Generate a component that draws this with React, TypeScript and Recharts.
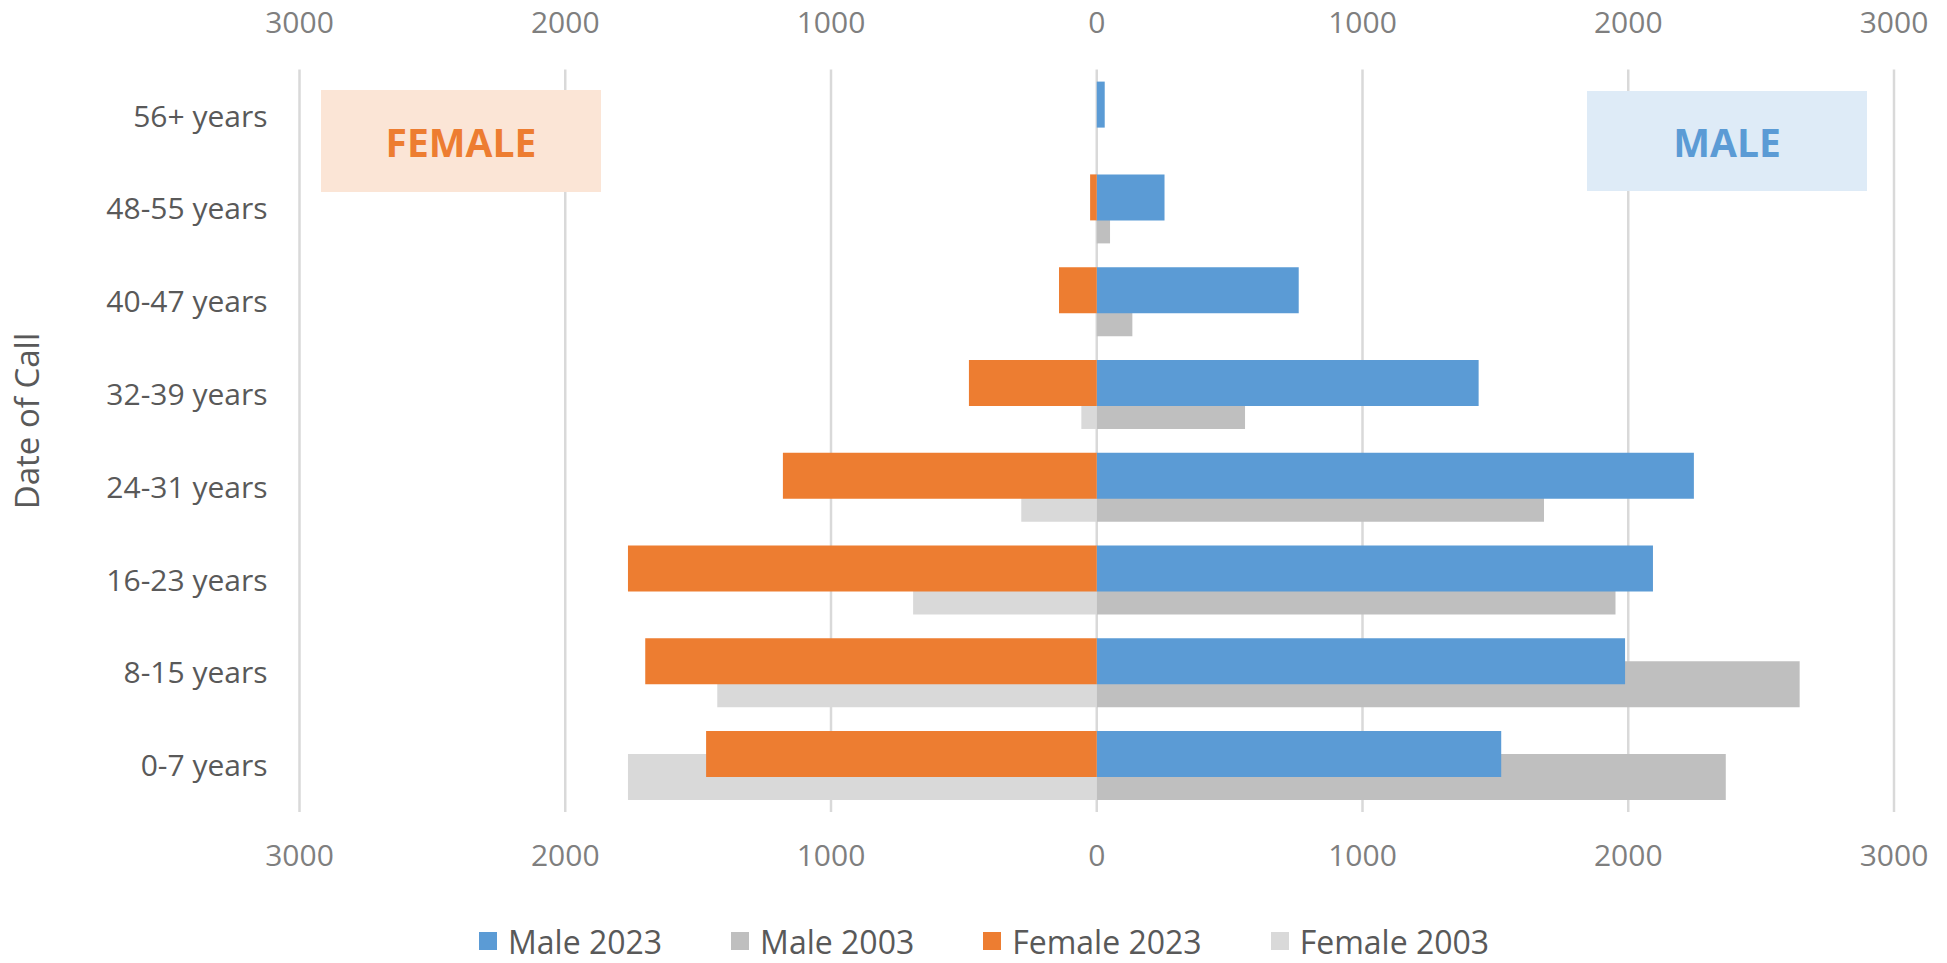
import React from 'react';
import { BarChart, Bar, XAxis, YAxis, CartesianGrid, Legend, Rectangle } from 'recharts';

const FONT = '"Open Sans", "DejaVu Sans", sans-serif';

const ageGroups = ['56+ years', '48-55 years', '40-47 years', '32-39 years', '24-31 years', '16-23 years', '8-15 years', '0-7 years'];
const male2023 = [30, 255, 760, 1437, 2247, 2093, 1988, 1522];
const male2003 = [0, 50, 134, 558, 1683, 1952, 2645, 2367];
const female2023 = [0, 25, 142, 481, 1181, 1764, 1699, 1470];
const female2003 = [0, 0, 0, 58, 284, 691, 1428, 1764];
const xTicks = [-3000, -2000, -1000, 0, 1000, 2000, 3000];

const seriesNames = ['Male 2023', 'Male 2003', 'Female 2023', 'Female 2003'];
const seriesColors = ['#5B9BD5', '#BFBFBF', '#ED7D31', '#D9D9D9'];

const data = ageGroups.map((age, i) => ({
  age,
  'Male 2023': male2023[i],
  'Male 2003': male2003[i],
  'Female 2023': -female2023[i],
  'Female 2003': -female2003[i],
}));

const makeShape = (dy: number, fill: string) => (props: any) => {
  const { x, y, width, height } = props;
  if (!width || !height) return <g />;
  return <Rectangle x={x} y={y + dy} width={width} height={height} fill={fill} />;
};

const renderLegend = (props: any) => {
  const payload = props.payload || [];
  const items = seriesNames.map((n, i) => {
    const p = payload.find((q: any) => q.value === n);
    return { name: n, color: p ? p.color : seriesColors[i] };
  });
  return (
    <div style={{ display: 'flex', alignItems: 'center', height: 44, paddingLeft: 479, fontFamily: FONT, fontSize: 32, color: '#595959' }}>
      {items.map((it, i) => (
        <div key={it.name} style={{ display: 'flex', alignItems: 'center', marginRight: i < items.length - 1 ? 69 : 0 }}>
          <span style={{ display: 'inline-block', width: 18, height: 18, background: it.color, marginRight: 11 }} />
          <span style={{ whiteSpace: 'nowrap' }}>{it.name}</span>
        </div>
      ))}
    </div>
  );
};

const absFmt = (v: number) => String(Math.abs(v));

export default function App() {
  return (
    <div style={{ position: 'absolute', left: 0, top: 0, width: 1947, height: 963, background: '#fff', fontFamily: FONT }}>
      <BarChart
        width={1947}
        height={963}
        data={data}
        layout="vertical"
        stackOffset="sign"
        barGap={-23}
        margin={{ top: 29.6, right: 53, bottom: 47.1, left: 39.5 }}
      >
        <CartesianGrid horizontal={false} stroke="#D9D9D9" strokeWidth={2.5} />
        <XAxis
          type="number"
          domain={[-3000, 3000]}
          ticks={xTicks}
          tickFormatter={absFmt}
          axisLine={false}
          tickLine={false}
          tickSize={0}
          tickMargin={33}
          height={60}
          allowDataOverflow
          tick={{ fill: '#7F7F7F', fontSize: 30, fontFamily: FONT }}
        />
        <XAxis
          xAxisId="top"
          orientation="top"
          type="number"
          domain={[-3000, 3000]}
          ticks={xTicks}
          tickFormatter={absFmt}
          axisLine={false}
          tickLine={false}
          tickSize={0}
          tickMargin={36.6}
          height={40}
          allowDataOverflow
          tick={{ fill: '#7F7F7F', fontSize: 30, fontFamily: FONT }}
        />
        <YAxis
          type="category"
          dataKey="age"
          width={260}
          interval={0}
          axisLine={false}
          tickLine={false}
          tickSize={0}
          tickMargin={32}
          tick={{ fill: '#595959', fontSize: 30, fontFamily: FONT }}
          label={() => (
            <text
              x={39}
              y={421}
              transform="rotate(-90 39 421)"
              textAnchor="middle"
              fill="#595959"
              fontSize={33}
              fontFamily={FONT}
            >
              Date of Call
            </text>
          )}
        />
        <Legend
          verticalAlign="bottom"
          align="center"
          height={44}
          content={renderLegend}
          wrapperStyle={{ left: 0, width: 1947, top: 919, bottom: 'auto', height: 44 }}
        />
        <Bar dataKey="Male 2003" name="Male 2003" stackId="s03" fill={seriesColors[1]} barSize={46} isAnimationActive={false} shape={makeShape(23, seriesColors[1])} />
        <Bar dataKey="Female 2003" name="Female 2003" stackId="s03" fill={seriesColors[3]} barSize={46} isAnimationActive={false} shape={makeShape(23, seriesColors[3])} />
        <Bar dataKey="Male 2023" name="Male 2023" stackId="s23" fill={seriesColors[0]} barSize={46} isAnimationActive={false} shape={makeShape(-23, seriesColors[0])} />
        <Bar dataKey="Female 2023" name="Female 2023" stackId="s23" fill={seriesColors[2]} barSize={46} isAnimationActive={false} shape={makeShape(-23, seriesColors[2])} />
      </BarChart>
      <div style={{ position: 'absolute', left: 321, top: 90, width: 280, height: 102, background: '#FBE5D6', display: 'flex', alignItems: 'center', justifyContent: 'center', color: '#ED7D31', fontWeight: 700, fontSize: 39, fontFamily: FONT }}>
        FEMALE
      </div>
      <div style={{ position: 'absolute', left: 1587, top: 91, width: 280, height: 100, background: '#DEEBF7', display: 'flex', alignItems: 'center', justifyContent: 'center', color: '#5B9BD5', fontWeight: 700, fontSize: 39, fontFamily: FONT }}>
        MALE
      </div>
    </div>
  );
}
